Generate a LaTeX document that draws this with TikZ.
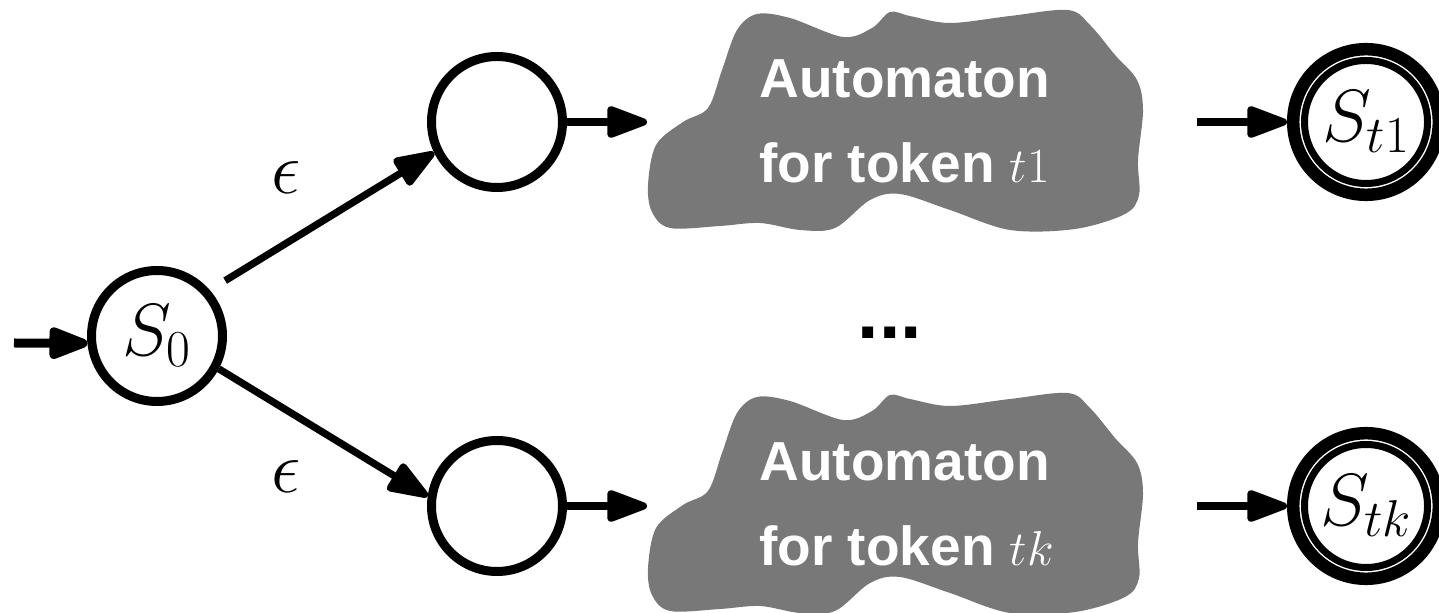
\RequirePackage{fix-cm}
\documentclass[tikz,border=0pt]{standalone}
\usepackage{fontspec}
\newfontfamily\labelsans{Liberation Sans}
\usetikzlibrary{arrows.meta}
\definecolor{blobgray}{RGB}{120,120,120}

\tikzset{
  state/.style={circle, draw, line width=4.5pt, minimum size=65.5pt, inner sep=0pt,
    font=\fontsize{37}{44}\selectfont},
  accepting/.style={circle, draw, line width=3.5pt, minimum size=61.5pt, inner sep=0pt,
    outer sep=8.75pt, font=\fontsize{37}{44}\selectfont},
  ring/.style={line width=6.25pt},
  edge/.style={-{Triangle[length=23.5pt, width=16.5pt, round]}, line width=3.6pt},
  startedge/.style={edge, line width=4.5pt},
  blobtext/.style={text=white, align=left, inner sep=0pt,
    font=\labelsans\bfseries\fontsize{27.5}{42.5}\selectfont},
  epslabel/.style={font=\fontsize{37}{44}\selectfont, inner sep=0pt},
  blob/.pic={
    \fill[blobgray] plot[smooth cycle, tension=0.55] coordinates {
      (-247,63) (-239,23) (-212,0) (-187,-14) (-173,-52) (-158,-92) (-138,-108)
      (-105,-104) (-52,-85) (-23,-94) (-5,-110) (15,-106) (55,-99) (115,-106)
      (173,-112) (195,-97) (220,-67) (242,-42) (248,-12) (243,38) (244,73)
      (230,92) (180,107) (115,108) (55,88) (5,72) (-25,78) (-60,106) (-95,108)
      (-135,101) (-175,104) (-225,106) (-243,90)};
  }
}
\newcommand{\tokmath}[1]{{\fontsize{24.5}{27}\selectfont$#1$}}

\begin{document}
\begin{tikzpicture}[x=0.5pt, y=-0.5pt]
  \useasboundingbox (0,0) rectangle (1439,613);

  % token automata drawn as grey clouds
  \pic at (895,122) {blob};
  \pic at (895,505) {blob};

  % states
  \node[state] (s0) at (157,336) {$S_0$};
  \node[state] (c1) at (497,122) {};
  \node[state] (c2) at (497,506) {};
  \node[accepting] (s1) at (1366,122) {$S_{t1}$};
  \node[accepting] (sk) at (1366,506) {$S_{tk}$};
  \draw[ring] (s1.center) circle[radius=36.4pt];
  \draw[ring] (sk.center) circle[radius=36.4pt];

  % cloud captions (base anchor sits on the last line)
  \node[blobtext, anchor=base west] (b1) at (759,183) {Automaton\\for token \tokmath{t1}};
  \node[blobtext, anchor=base west] (bk) at (759,566) {Automaton\\for token \tokmath{tk}};

  % entry and exit points of the clouds
  \coordinate (b1in) at (647,122);
  \coordinate (b1out) at (1197,122);
  \coordinate (bkin) at (647,506);
  \coordinate (bkout) at (1197,506);
  \coordinate (start) at (14,343);

  % transitions
  \draw[startedge] (start) -- (s0.186);
  \draw[edge, shorten <=9pt] (s0.41) -- (c1.206);
  \draw[edge] (s0.332) -- (c2.172);
  \draw[edge] (c1) -- (b1in);
  \draw[edge] (c2) -- (bkin);
  \draw[edge] (b1out) -- (s1);
  \draw[edge] (bkout) -- (sk);

  % labels
  \node[epslabel] (e1) at (286,178) {$\epsilon$};
  \node[epslabel] (e2) at (286,477) {$\epsilon$};
  \node[font=\labelsans\bfseries\fontsize{38.5}{44}\selectfont, inner sep=0pt] (dots) at (890,333) {...};
\end{tikzpicture}
\end{document}
